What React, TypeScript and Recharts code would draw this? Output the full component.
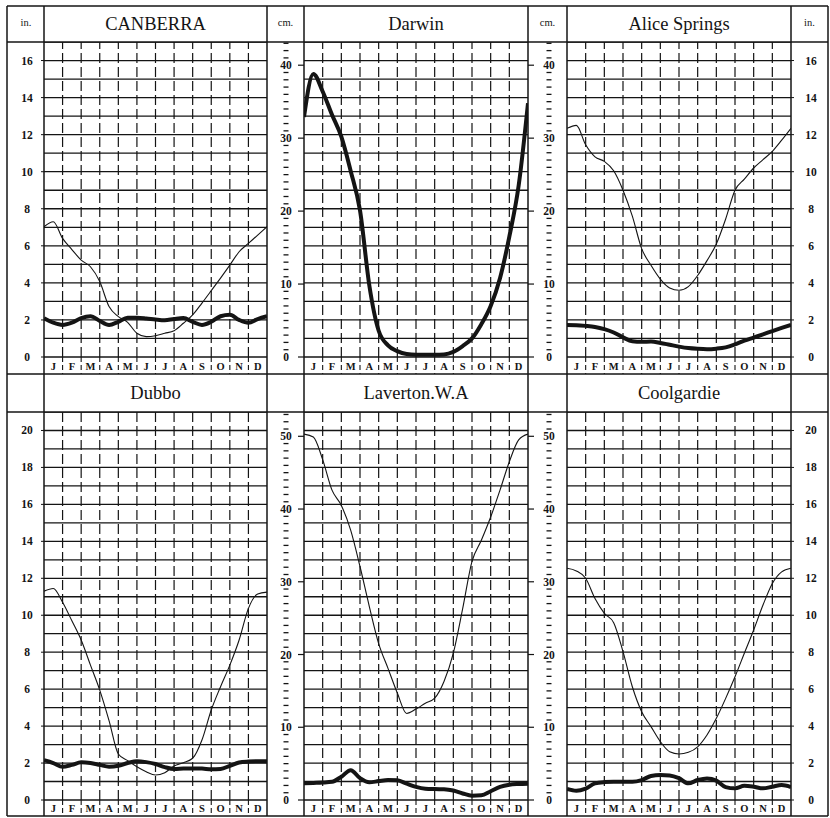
import React from 'react';
import { LineChart, Line, XAxis, YAxis, ReferenceLine } from 'recharts';

// month positions: edges 0..12 and mid-months, in month units
const monthLabels = ['J', 'F', 'M', 'A', 'M', 'J', 'J', 'A', 'S', 'O', 'N', 'D'];
const halfMonths = [0, 0.5, 1, 1.5, 2, 2.5, 3, 3.5, 4, 4.5, 5, 5.5, 6, 6.5, 7, 7.5, 8, 8.5, 9, 9.5, 10, 10.5, 11, 11.5, 12];
const monthBoundaries = [1, 2, 3, 4, 5, 6, 7, 8, 9, 10, 11];

const inTicksTop = [0, 2, 4, 6, 8, 10, 12, 14, 16];
const inTicksBottom = [0, 2, 4, 6, 8, 10, 12, 14, 16, 18, 20];
const gridInchesTop = [0, 1, 2, 3, 4, 5, 6, 7, 8, 9, 10, 11, 12, 13, 14, 15, 16, 17];
const gridInchesBottom = [0, 1, 2, 3, 4, 5, 6, 7, 8, 9, 10, 11, 12, 13, 14, 15, 16, 17, 18, 19, 20, 21];
const cmTicksTop = Array.from({ length: 44 }, (_, i) => i);
const cmTicksBottom = Array.from({ length: 54 }, (_, i) => i);

// inches
const canberraEvap = [7.03, 7.3, 6.4, 5.8, 5.23, 4.87, 4.07, 2.72, 2.18, 1.87, 1.28, 1.1, 1.15, 1.28, 1.42, 1.82, 2.27, 2.91, 3.58, 4.26, 4.96, 5.68, 6.13, 6.58, 7.03];
const canberraRain = [2.09, 1.85, 1.73, 1.85, 2.1, 2.2, 1.95, 1.73, 1.9, 2.12, 2.12, 2.08, 2.02, 1.98, 2.05, 2.1, 1.9, 1.73, 1.9, 2.2, 2.28, 2.0, 1.85, 2.05, 2.2];
// cm
const darwinRain = [32.9, 38.8, 36.4, 33.2, 30.2, 25.5, 20.1, 9.8, 3.6, 1.6, 0.8, 0.4, 0.3, 0.3, 0.3, 0.35, 0.7, 1.5, 2.55, 4.5, 7.0, 10.8, 16.5, 23.5, 34.8];
// inches
const aliceEvap = [12.34, 12.5, 11.45, 10.8, 10.56, 10.05, 9.0, 7.6, 5.85, 4.95, 4.2, 3.72, 3.6, 3.8, 4.4, 5.2, 6.1, 7.45, 9.0, 9.6, 10.2, 10.65, 11.1, 11.7, 12.34];
const aliceRain = [1.73, 1.72, 1.68, 1.62, 1.5, 1.32, 1.06, 0.85, 0.82, 0.83, 0.76, 0.66, 0.56, 0.48, 0.44, 0.42, 0.45, 0.52, 0.68, 0.88, 1.05, 1.22, 1.4, 1.57, 1.73];
// inches
const dubboEvap = [11.3, 11.45, 10.7, 9.7, 8.66, 7.3, 5.95, 4.3, 2.49, 2.13, 1.8, 1.53, 1.35, 1.48, 1.84, 2.02, 2.26, 3.25, 4.87, 6.13, 7.3, 8.66, 10.37, 11.15, 11.25];
const dubboRain = [2.15, 2.0, 1.8, 1.9, 2.04, 2.0, 1.9, 1.8, 1.85, 2.0, 2.1, 2.05, 1.95, 1.78, 1.68, 1.7, 1.71, 1.7, 1.66, 1.68, 1.85, 2.03, 2.08, 2.1, 2.1];
// cm
const lavertonEvap = [50.3, 49.9, 46.8, 42.6, 40.5, 37.1, 32.1, 26.6, 21.5, 18.1, 14.7, 11.9, 12.5, 13.3, 14.0, 16.3, 20.2, 26.3, 32.8, 35.7, 38.9, 42.6, 46.5, 49.5, 50.3];
const lavertonRain = [2.3, 2.35, 2.4, 2.5, 3.2, 4.1, 3.0, 2.43, 2.6, 2.75, 2.7, 2.25, 1.8, 1.55, 1.5, 1.48, 1.3, 0.9, 0.6, 0.65, 1.2, 1.8, 2.1, 2.2, 2.25];
// inches
const coolgardieEvap = [12.54, 12.4, 12.0, 10.9, 10.1, 9.6, 8.03, 6.13, 4.78, 3.97, 3.16, 2.61, 2.49, 2.58, 2.88, 3.52, 4.42, 5.5, 6.67, 7.94, 9.2, 10.55, 11.72, 12.35, 12.54];
const coolgardieRain = [0.6, 0.5, 0.62, 0.9, 0.97, 0.99, 0.99, 0.99, 1.08, 1.3, 1.35, 1.33, 1.18, 0.9, 1.08, 1.17, 1.05, 0.7, 0.63, 0.77, 0.72, 0.63, 0.72, 0.81, 0.7];

const serif = '"Liberation Serif", "Times New Roman", serif';
const ink = '#141414';

const buildRows = (rain: number[], evap?: number[]) =>
  halfMonths.map((m, i) => ({ m, rain: rain[i], evap: evap ? evap[i] : undefined }));

// edge = x of the plot border the axis sits against (chart coords)
const inTick = (side: 'left' | 'right', edge: number) => (p: any) => {
  const { y, payload } = p;
  const s = side === 'left' ? -1 : 1;
  const off = side === 'left' ? 17 : 20;
  return (
    <g>
      <line x1={edge} x2={edge + s * 3} y1={y} y2={y} stroke={ink} strokeWidth={1} />
      <text x={edge + s * off} y={y + 4} textAnchor="middle" fontSize={11.5} fontWeight="bold" fontFamily={serif} fill={ink}>
        {payload.value}
      </text>
    </g>
  );
};

const cmTick = (side: 'left' | 'right', edge: number) => (p: any) => {
  const { y, payload } = p;
  const s = side === 'left' ? -1 : 1;
  const cx = edge + s * (side === 'left' ? 18 : 21);
  const v = payload.value;
  if (v % 10 === 0) {
    return (
      <g>
        <line x1={edge} x2={edge + s * 6} y1={y} y2={y} stroke={ink} strokeWidth={1.2} />
        <text x={cx} y={y + 4} textAnchor="middle" fontSize={11.5} fontWeight="bold" fontFamily={serif} fill={ink}>
          {v}
        </text>
      </g>
    );
  }
  return <line x1={cx - 2.5} x2={cx + 2.5} y1={y} y2={y} stroke={ink} strokeWidth={1.3} />;
};

const monthTick = (h: number) => (p: any) => {
  const { x, y, payload } = p;
  const v = payload.value;
  if (Number.isInteger(v)) {
    if (v === 0 || v === 12) return <g />;
    return <line x1={x} x2={x} y1={y} y2={y + h} stroke={ink} strokeWidth={1.1} strokeDasharray="5 3" />;
  }
  return (
    <text x={x} y={y + h - 4} textAnchor="middle" fontSize={10.5} fontWeight="bold" fontFamily={serif} fill={ink}>
      {monthLabels[Math.floor(v)]}
    </text>
  );
};

type PanelProps = {
  left: number;
  top: number;
  leftW: number;
  rightW: number;
  plotW: number;
  plotH: number;
  monthH: number;
  leftAxis: 'in' | 'cm' | null;
  rightAxis: 'in' | 'cm' | null;
  maxIn: number;
  inTicks: number[];
  cmTicks: number[];
  gridInches: number[];
  rain: number[];
  evap?: number[];
};

const Panel: React.FC<PanelProps> = (p) => {
  const data = buildRows(p.rain, p.evap);
  const maxCm = p.maxIn * 2.54;
  const unitAxis = p.leftAxis === 'cm' ? 'cmL' : 'inch';
  const leftEdge = p.leftW;
  const rightEdge = p.leftW + p.plotW;
  return (
    <div style={{ position: 'absolute', left: p.left, top: p.top }}>
      <LineChart
        width={p.leftW + p.plotW + p.rightW}
        height={p.plotH + p.monthH}
        data={data}
        margin={{ top: 0, right: 0, bottom: 0, left: 0 }}
      >
        <XAxis
          dataKey="m"
          type="number"
          domain={[0, 12]}
          ticks={halfMonths}
          interval={0}
          allowDataOverflow
          axisLine={false}
          tickLine={false}
          tickSize={0}
          tickMargin={0}
          height={p.monthH}
          tick={monthTick(p.monthH)}
        />
        <YAxis yAxisId="grid" hide type="number" domain={[0, p.maxIn]} allowDataOverflow />
        {p.leftAxis === 'in' && (
          <YAxis yAxisId="inch" orientation="left" width={p.leftW} type="number" domain={[0, p.maxIn]} allowDataOverflow
            ticks={p.inTicks} interval={0} axisLine={false} tickLine={false} tickSize={0} tickMargin={0} tick={inTick('left', leftEdge)} />
        )}
        {p.rightAxis === 'in' && (
          <YAxis yAxisId="inch" orientation="right" width={p.rightW} type="number" domain={[0, p.maxIn]} allowDataOverflow
            ticks={p.inTicks} interval={0} axisLine={false} tickLine={false} tickSize={0} tickMargin={0} tick={inTick('right', rightEdge)} />
        )}
        {p.leftAxis === 'cm' && (
          <YAxis yAxisId="cmL" orientation="left" width={p.leftW} type="number" domain={[0, maxCm]} allowDataOverflow
            ticks={p.cmTicks} interval={0} axisLine={false} tickLine={false} tickSize={0} tickMargin={0} tick={cmTick('left', leftEdge)} />
        )}
        {p.rightAxis === 'cm' && (
          <YAxis yAxisId="cmR" orientation="right" width={p.rightW} type="number" domain={[0, maxCm]} allowDataOverflow
            ticks={p.cmTicks} interval={0} axisLine={false} tickLine={false} tickSize={0} tickMargin={0} tick={cmTick('right', rightEdge)} />
        )}
        {p.gridInches.map((v) => (
          <ReferenceLine key={'h' + v} yAxisId="grid" y={v} stroke={ink} strokeWidth={1.3} />
        ))}
        {monthBoundaries.map((v) => (
          <ReferenceLine key={'v' + v} yAxisId="grid" x={v} stroke={ink} strokeWidth={1.2} strokeDasharray="10 4" />
        ))}
        {p.evap && (
          <Line yAxisId={unitAxis} dataKey="evap" type="monotone" stroke={ink} strokeWidth={1.1} dot={false} isAnimationActive={false} />
        )}
        <Line yAxisId={unitAxis} dataKey="rain" type="monotone" stroke={ink} strokeWidth={4} dot={false} isAnimationActive={false} />
      </LineChart>
    </div>
  );
};

// layout columns / rows (px)
const colX = [7, 44, 267, 304, 528, 567, 791, 828];
const rowY = [6, 42, 374, 412, 816];

const Label: React.FC<{ cx: number; cy: number; size: number; text: string }> = ({ cx, cy, size, text }) => (
  <div
    style={{
      position: 'absolute',
      left: cx - 100,
      top: cy - size * 0.62,
      width: 200,
      textAlign: 'center',
      fontFamily: serif,
      fontSize: size,
      lineHeight: `${size * 1.2}px`,
      color: ink,
      whiteSpace: 'nowrap',
    }}
  >
    {text}
  </div>
);

export default function App() {
  const topPlotH = 357 - 42;
  const botPlotH = 800 - 412;
  return (
    <div style={{ position: 'absolute', left: 0, top: 0, width: 830, height: 818, background: '#fff', overflow: 'hidden' }}>
      {/* top row */}
      <Panel left={7} top={42} leftW={37} rightW={0} plotW={223} plotH={topPlotH} monthH={17}
        leftAxis="in" rightAxis={null} maxIn={17} inTicks={inTicksTop} cmTicks={cmTicksTop} gridInches={gridInchesTop}
        rain={canberraRain} evap={canberraEvap} />
      <Panel left={267} top={42} leftW={37} rightW={39} plotW={224} plotH={topPlotH} monthH={17}
        leftAxis="cm" rightAxis="cm" maxIn={17} inTicks={inTicksTop} cmTicks={cmTicksTop} gridInches={gridInchesTop}
        rain={darwinRain} />
      <Panel left={567} top={42} leftW={0} rightW={37} plotW={224} plotH={topPlotH} monthH={17}
        leftAxis={null} rightAxis="in" maxIn={17} inTicks={inTicksTop} cmTicks={cmTicksTop} gridInches={gridInchesTop}
        rain={aliceRain} evap={aliceEvap} />
      {/* bottom row */}
      <Panel left={7} top={412} leftW={37} rightW={0} plotW={223} plotH={botPlotH} monthH={16}
        leftAxis="in" rightAxis={null} maxIn={21} inTicks={inTicksBottom} cmTicks={cmTicksBottom} gridInches={gridInchesBottom}
        rain={dubboRain} evap={dubboEvap} />
      <Panel left={267} top={412} leftW={37} rightW={39} plotW={224} plotH={botPlotH} monthH={16}
        leftAxis="cm" rightAxis="cm" maxIn={21} inTicks={inTicksBottom} cmTicks={cmTicksBottom} gridInches={gridInchesBottom}
        rain={lavertonRain} evap={lavertonEvap} />
      <Panel left={567} top={412} leftW={0} rightW={37} plotW={224} plotH={botPlotH} monthH={16}
        leftAxis={null} rightAxis="in" maxIn={21} inTicks={inTicksBottom} cmTicks={cmTicksBottom} gridInches={gridInchesBottom}
        rain={coolgardieRain} evap={coolgardieEvap} />

      {/* frame */}
      <svg width={830} height={818} style={{ position: 'absolute', left: 0, top: 0, pointerEvents: 'none' }}>
        {colX.map((x) => (
          <line key={'c' + x} x1={x} x2={x} y1={rowY[0]} y2={rowY[4]} stroke={ink} strokeWidth={1.5} />
        ))}
        {rowY.map((y) => (
          <line key={'r' + y} x1={colX[0]} x2={colX[7]} y1={y} y2={y} stroke={ink} strokeWidth={1.5} />
        ))}
      </svg>

      {/* headers */}
      <Label cx={155.5} cy={24} size={18.5} text="CANBERRA" />
      <Label cx={416} cy={24} size={18.5} text="Darwin" />
      <Label cx={679} cy={24} size={18.5} text="Alice Springs" />
      <Label cx={155.5} cy={393} size={18.5} text="Dubbo" />
      <Label cx={416} cy={393} size={18.5} text="Laverton.W.A" />
      <Label cx={679} cy={393} size={18.5} text="Coolgardie" />
      <Label cx={26} cy={24} size={10.5} text="in." />
      <Label cx={285.5} cy={24} size={10.5} text="cm." />
      <Label cx={547.5} cy={24} size={10.5} text="cm." />
      <Label cx={809.5} cy={24} size={10.5} text="in." />
    </div>
  );
}
